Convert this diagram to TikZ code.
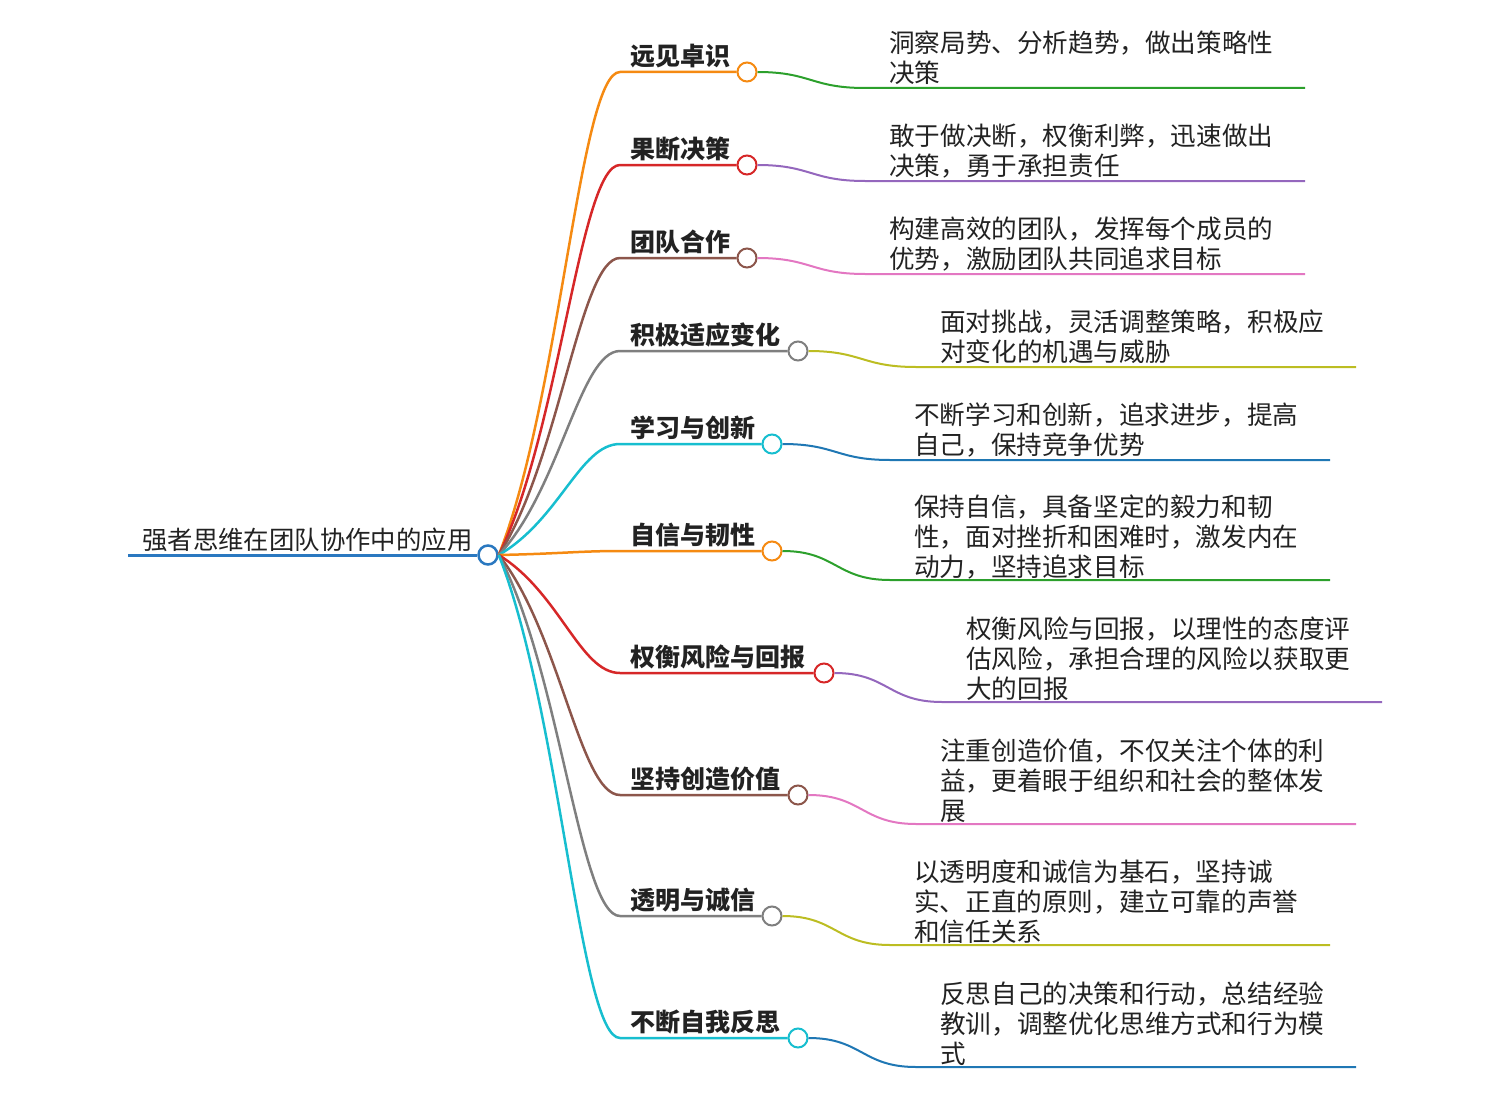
\documentclass[tikz,border=0pt]{standalone}
\usepackage{fontspec}
\newfontfamily\cjk{Noto Sans CJK SC}
\definecolor{rootblue}{HTML}{2A78C0}
\definecolor{cOrange}{HTML}{F58A12}
\definecolor{cRed}{HTML}{D62728}
\definecolor{cBrown}{HTML}{8C564B}
\definecolor{cGrey}{HTML}{7F7F7F}
\definecolor{cCyan}{HTML}{17BECF}
\definecolor{cGreen}{HTML}{2CA02C}
\definecolor{cPurple}{HTML}{9467BD}
\definecolor{cPink}{HTML}{E377C2}
\definecolor{cOlive}{HTML}{BCBD22}
\definecolor{cBlue}{HTML}{1F77B4}
\definecolor{ink}{HTML}{222222}
\tikzset{
  l1line/.style={line width=2.5pt},
  l2line/.style={line width=2pt},
  dot/.style={circle, draw, fill=white, line width=2pt, minimum size=19pt, inner sep=0pt},
  l1text/.style={font=\cjk\bfseries\fontsize{25}{28}\selectfont, text=ink, anchor=base west, inner sep=0pt},
  l2text/.style={font=\cjk\fontsize{25.6}{30}\selectfont, text=ink, align=left, anchor=north west, inner sep=0pt},
}
% #1 id, #2 y, #3 circle x, #4 title, #5 colour 1, #6 colour 2, #7 text, #8 lines
\newcommand\mbranch[8]{%
  \pgfmathsetmacro\ctrly{555-0.32*(555-#2)}%
  \pgfmathsetmacro\uy{#2+13*#8-10}%
  \coordinate (s#1) at (620,#2);
  \node[l1text] (t#1) at (630,#2-6.5) {#4};
  \node[dot, draw=#5] (d#1) at (#3,#2) {};
  \draw[l1line,#5] (root.east) .. controls (560,\ctrly) and (580,#2) .. (s#1) -- (d#1.west);
  \coordinate (e#1) at (#3+118,\uy);
  \coordinate (f#1) at (#3+558,\uy);
  \draw[l2line,#6] (d#1.east) .. controls (#3+64,#2) and (#3+64,\uy) .. (e#1) -- (f#1);
  \node[l2text] (x#1) at (#3+142,#2-15*#8-11.5) {\rule{0pt}{21pt}#7};
}
\begin{document}
\begin{tikzpicture}[x=1pt,y=-1pt]
\useasboundingbox (0,0) rectangle (1508,1116);
\coordinate (rs) at (128,555);
\node[dot, draw=rootblue, line width=2.5pt] (root) at (488,555) {};
\draw[line width=3pt, rootblue] (rs) -- (root.west);
\node[font=\cjk\fontsize{25.4}{30}\selectfont, text=ink, anchor=base west, inner sep=0pt] (rt) at (142,549) {强者思维在团队协作中的应用};
\mbranch{1}{72}{747}{远见卓识}{cOrange}{cGreen}{洞察局势、分析趋势，做出策略性\\决策}{2}
\mbranch{2}{165}{747}{果断决策}{cRed}{cPurple}{敢于做决断，权衡利弊，迅速做出\\决策，勇于承担责任}{2}
\mbranch{3}{258}{747}{团队合作}{cBrown}{cPink}{构建高效的团队，发挥每个成员的\\优势，激励团队共同追求目标}{2}
\mbranch{4}{351}{798}{积极适应变化}{cGrey}{cOlive}{面对挑战，灵活调整策略，积极应\\对变化的机遇与威胁}{2}
\mbranch{5}{444}{772}{学习与创新}{cCyan}{cBlue}{不断学习和创新，追求进步，提高\\自己，保持竞争优势}{2}
\mbranch{6}{551}{772}{自信与韧性}{cOrange}{cGreen}{保持自信，具备坚定的毅力和韧\\性，面对挫折和困难时，激发内在\\动力，坚持追求目标}{3}
\mbranch{7}{673}{824}{权衡风险与回报}{cRed}{cPurple}{权衡风险与回报，以理性的态度评\\估风险，承担合理的风险以获取更\\大的回报}{3}
\mbranch{8}{795}{798}{坚持创造价值}{cBrown}{cPink}{注重创造价值，不仅关注个体的利\\益，更着眼于组织和社会的整体发\\展}{3}
\mbranch{9}{916}{772}{透明与诚信}{cGrey}{cOlive}{以透明度和诚信为基石，坚持诚\\实、正直的原则，建立可靠的声誉\\和信任关系}{3}
\mbranch{10}{1038}{798}{不断自我反思}{cCyan}{cBlue}{反思自己的决策和行动，总结经验\\教训，调整优化思维方式和行为模\\式}{3}
\end{tikzpicture}
\end{document}
